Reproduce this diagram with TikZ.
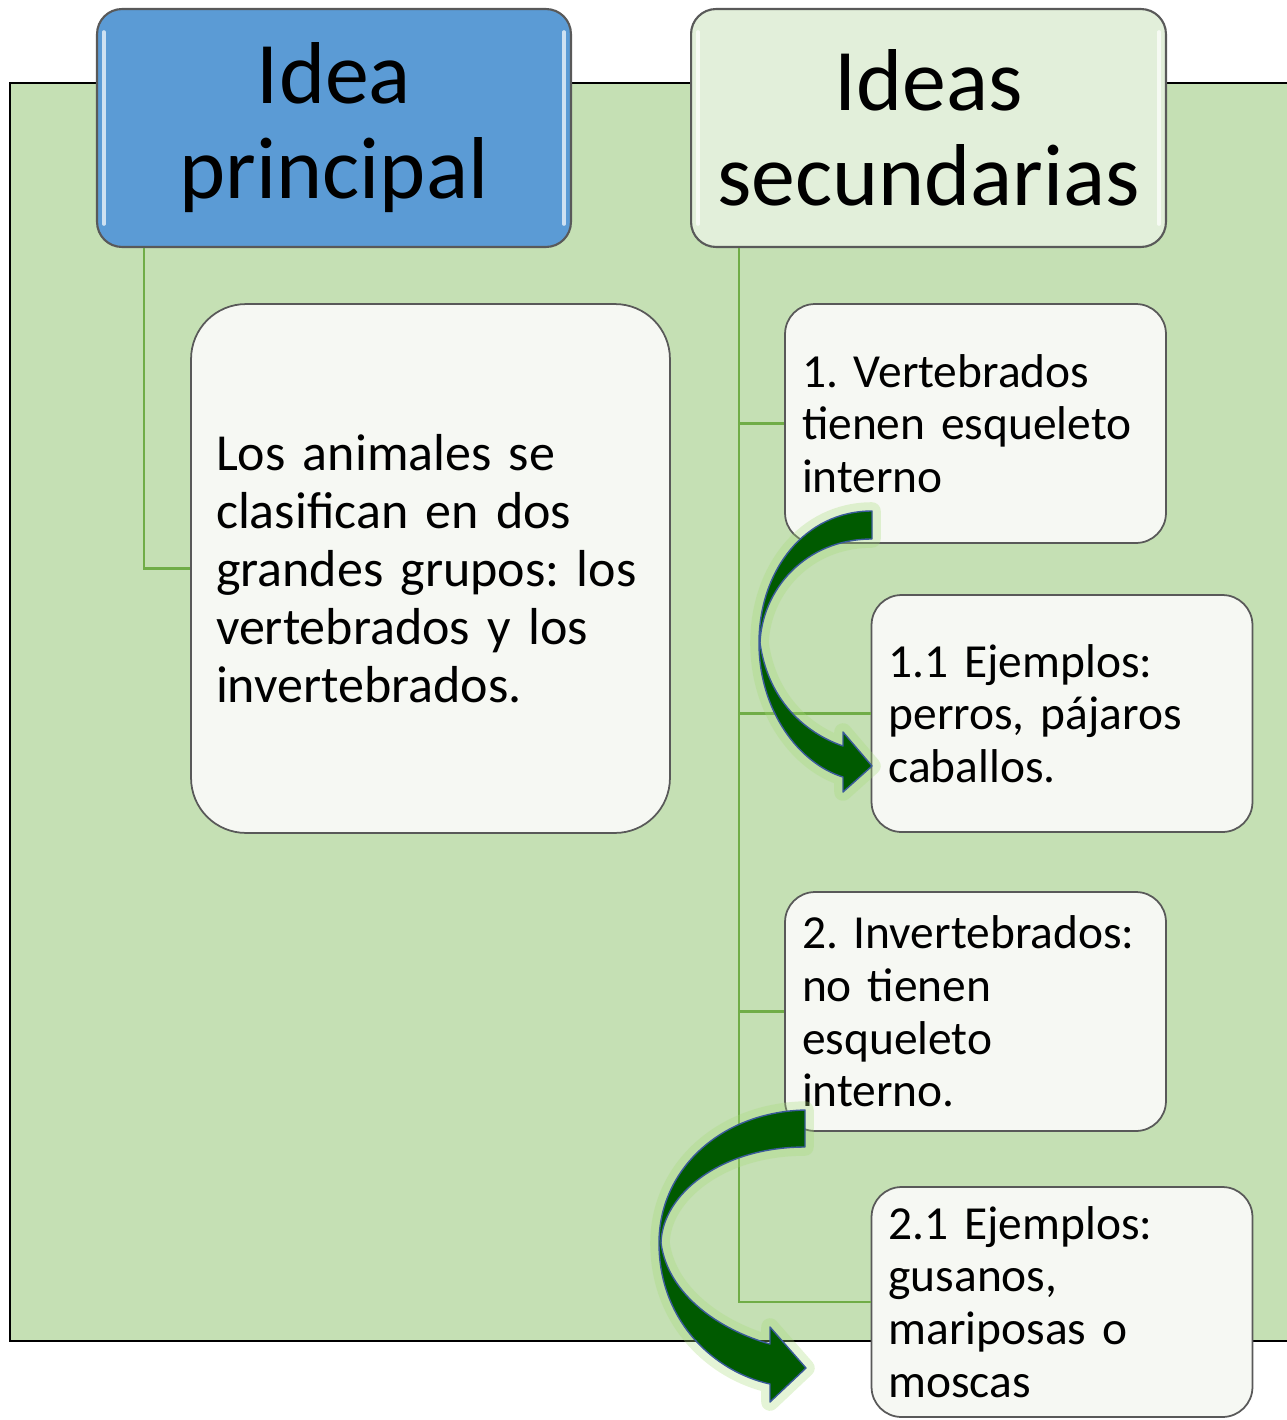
\documentclass[tikz,border=0pt]{standalone}
\usepackage{fontspec}
\setmainfont{Carlito}
\usepackage{tikz}

\definecolor{fondo}{HTML}{C5E0B4}
\definecolor{azul}{HTML}{5B9BD5}
\definecolor{verdeclaro}{HTML}{E2EFDA}
\definecolor{relleno}{HTML}{F6F8F3}
\definecolor{borde}{HTML}{595959}
\definecolor{enlace}{HTML}{70AD47}
\definecolor{flechaverde}{HTML}{005A00}
\definecolor{flechaborde}{HTML}{3A5A9A}
\definecolor{brillo}{HTML}{A6DC78}

\begin{document}
\frenchspacing
\begin{tikzpicture}[x=0.02cm,y=-0.02cm,
    titulo/.style={draw=borde, line width=1.2pt, rounded corners=0.5cm,
        minimum width=9.48cm, minimum height=4.76cm, align=center,
        font=\fontsize{50}{54}\selectfont},
    caja/.style={draw=borde, line width=1pt, fill=relleno, rounded corners=0.6cm,
        align=left, inner xsep=0.34cm, text width=6.94cm, minimum height=4.78cm,
        font=\fontsize{27}{30}\selectfont},
    enlace/.style={draw=enlace, line width=1.6pt},
    lustre/.style={draw=white, line width=2pt, opacity=0.7, line cap=round},
    curva/.style={fill=flechaverde, draw=flechaborde, line width=0.8pt, line join=round,
        preaction={draw=brillo, line width=10pt, opacity=0.3, line join=round}}]
    \useasboundingbox (0,0) rectangle (1287,1420);

    % Fondo verde
    \fill[fondo] (10,83) rectangle (1287,1341);
    \draw[line width=1.2pt] (1287,83) -- (10,83) -- (10,1341) -- (1287,1341);

    % Encabezados
    \node[titulo, fill=azul] (principal) at (334,128) {Idea\\principal};
    \node[titulo, fill=verdeclaro, minimum width=9.5cm] (secundarias) at (928.5,128) {Ideas\\secundarias};
    \draw[lustre] ([shift={(8,24)}]principal.north west) -- ([shift={(8,-24)}]principal.south west);
    \draw[lustre] ([shift={(-8,24)}]principal.north east) -- ([shift={(-8,-24)}]principal.south east);
    \draw[lustre] ([shift={(8,24)}]secundarias.north west) -- ([shift={(8,-24)}]secundarias.south west);
    \draw[lustre] ([shift={(-8,24)}]secundarias.north east) -- ([shift={(-8,-24)}]secundarias.south east);

    % Cajas de texto
    \node[caja, text width=8.58cm, inner xsep=0.5cm, minimum height=10.58cm,
        rounded corners=1.1cm, font=\fontsize{29.6}{33}\selectfont] (texto) at (430.5,568.5)
        {Los animales se\\clasifican en dos\\grandes grupos: los\\vertebrados y los\\invertebrados.};
    \node[caja] (vert) at (975.5,423.5) {1. Vertebrados\\tienen esqueleto\\interno};
    \node[caja, minimum height=4.74cm] (ejvert) at (1062,713.5) {1.1 Ejemplos:\\perros, pájaros\\caballos.};
    \node[caja] (invert) at (975.5,1011.5) {2. Invertebrados:\\no tienen\\esqueleto\\interno.};
    \node[caja, minimum height=4.6cm] (ejinvert) at (1062,1302) {2.1 Ejemplos:\\gusanos,\\mariposas o\\moscas};

    % Conectores
    \draw[enlace, line width=1.2pt] ([shift={(48,0)}]principal.south west) |- (texto.west);
    \coordinate (tronco) at ([shift={(49,0)}]secundarias.south west);
    \draw[enlace] (tronco) |- (vert.west);
    \draw[enlace] (tronco) |- (ejvert.west);
    \draw[enlace] (tronco) |- (invert.west);
    \draw[enlace] (tronco) |- (ejinvert.west);

    % Flechas curvas
    \draw[curva] (872,511) .. controls (805,511) and (759,570) .. (759,643)
        .. controls (759,712) and (800,764) .. (843,777)
        -- (843,792) -- (872,766) -- (843,732) -- (843,746)
        .. controls (805,733) and (768,700) .. (760,643)
        .. controls (762,590) and (805,539) .. (872,539) -- cycle;
    \draw[curva] (805,1110) .. controls (720,1112) and (659,1170) .. (659,1243)
        .. controls (659,1322) and (715,1372) .. (770,1384)
        -- (770,1402) -- (806,1368) -- (770,1327) -- (770,1344)
        .. controls (720,1330) and (668,1295) .. (661,1243)
        .. controls (662,1195) and (720,1147) .. (805,1147) -- cycle;
\end{tikzpicture}
\end{document}
